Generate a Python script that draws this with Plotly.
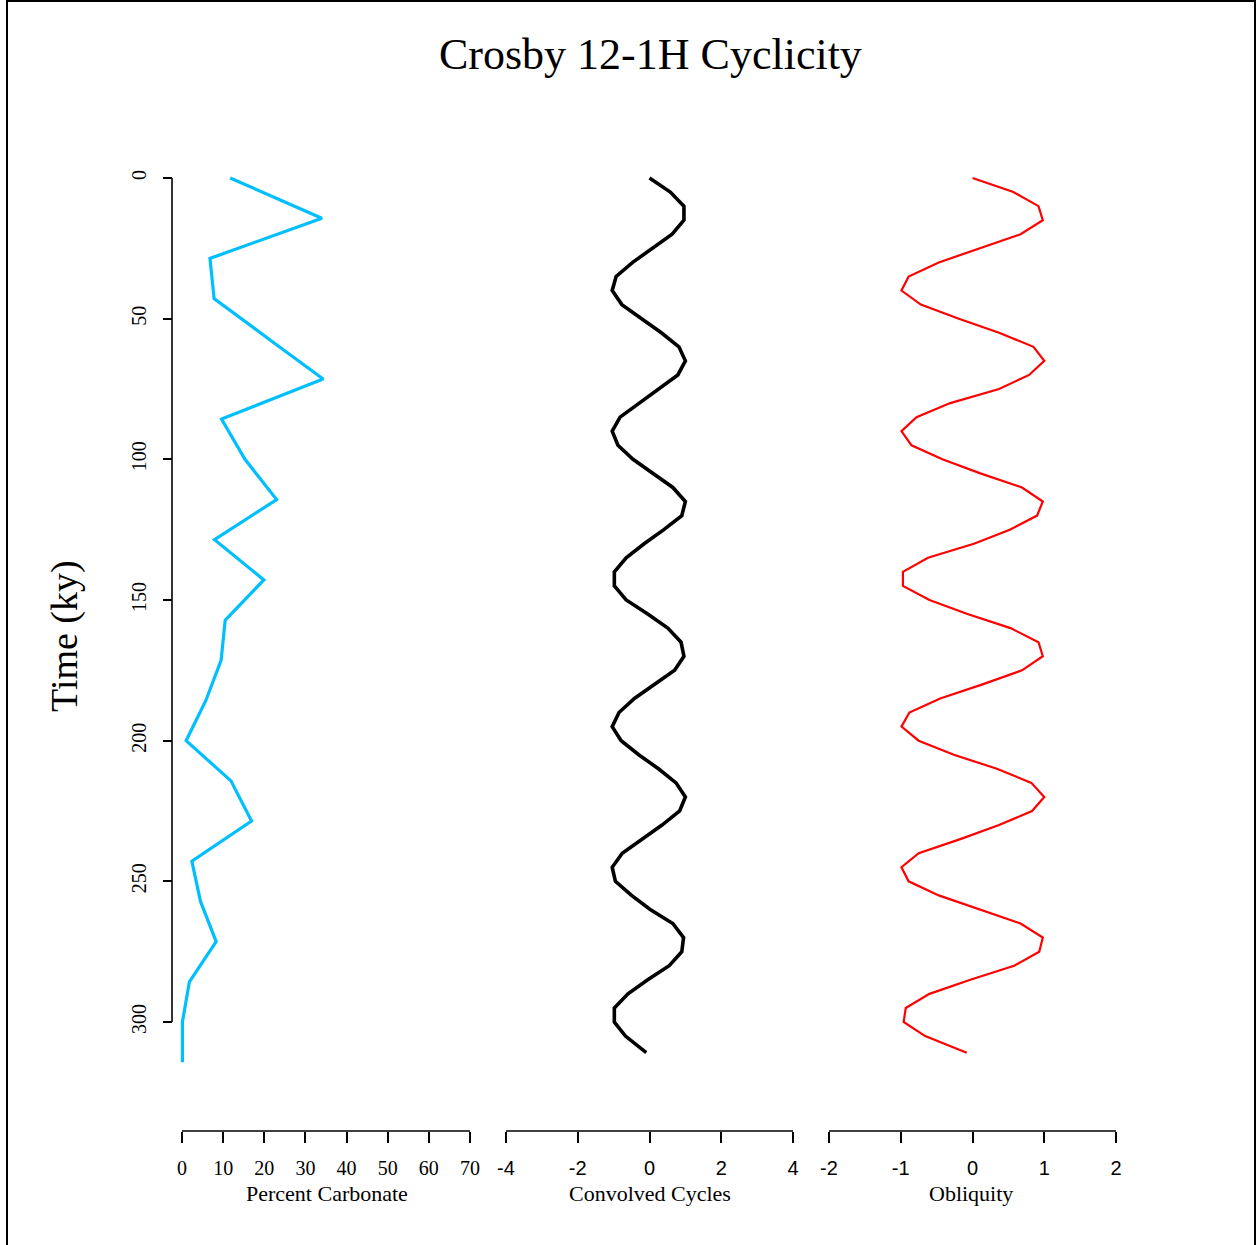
import plotly.graph_objects as go

W, H = 1257, 1245

# ---------------- data ----------------
carb_time = [0, 14.29, 28.57, 42.86, 57.14, 71.43, 85.71, 100, 114.29, 128.57,
             142.86, 157.14, 171.43, 185.71, 200, 214.29, 228.57, 242.86,
             257.14, 271.43, 285.71, 300, 314.29]
carb_pct = [11.7, 34.0, 6.8, 7.8, 21.0, 34.3, 9.6, 15.3, 23.0, 7.9,
            19.9, 10.5, 9.5, 5.8, 1.0, 11.9, 16.9, 2.4, 4.5, 8.3,
            1.8, 0.1, 0.1]

cyc_time = [0, 5, 10, 15, 20, 25, 30, 35, 40, 45, 50, 55, 60, 65, 70, 75, 80,
            85, 90, 95, 100, 105, 110, 115, 120, 125, 130, 135, 140, 145, 150,
            155, 160, 165, 170, 175, 180, 185, 190, 195, 200, 205, 210, 215,
            220, 225, 230, 235, 240, 245, 250, 255, 260, 265, 270, 275, 280,
            285, 290, 295, 300, 305, 310.9]

convolved = [0.00, 0.58, 0.96, 0.96, 0.63, 0.08, -0.47, -0.93, -1.04, -0.77,
             -0.22, 0.33, 0.82, 1.00, 0.79, 0.25, -0.28, -0.82, -1.04, -0.88,
             -0.46, 0.10, 0.65, 1.00, 0.90, 0.40, -0.15, -0.65, -0.98, -0.98,
             -0.65, -0.05, 0.51, 0.88, 0.96, 0.70, 0.15, -0.42, -0.85, -1.04,
             -0.79, -0.30, 0.25, 0.74, 1.00, 0.84, 0.35, -0.22, -0.76, -1.04,
             -0.95, -0.50, 0.02, 0.65, 0.95, 0.90, 0.55, -0.05, -0.60, -0.98,
             -0.98, -0.67, -0.09]

obliquity = [0.00, 0.57, 0.92, 0.98, 0.67, 0.11, -0.47, -0.89, -0.99, -0.72,
             -0.19, 0.37, 0.85, 1.00, 0.79, 0.37, -0.31, -0.78, -0.99, -0.85,
             -0.42, 0.11, 0.69, 0.98, 0.90, 0.52, 0.02, -0.62, -0.97, -0.97,
             -0.60, -0.07, 0.53, 0.92, 0.98, 0.69, 0.14, -0.45, -0.88, -0.99,
             -0.75, -0.26, 0.34, 0.82, 1.00, 0.83, 0.37, -0.17, -0.75, -0.99,
             -0.89, -0.47, 0.11, 0.67, 0.98, 0.93, 0.58, -0.03, -0.60, -0.93,
             -0.96, -0.66, -0.08]

y_ticks = [0, 50, 100, 150, 200, 250, 300]
carb_ticks = [0, 10, 20, 30, 40, 50, 60, 70]
cyc_ticks = [-4, -2, 0, 2, 4]
obl_ticks = [-2, -1, 0, 1, 2]

# ---------------- layout geometry (pixels) ----------------
def px(x):
    return x / W

def py(y):
    return 1 - y / H

SERIF = "Liberation Serif, Times New Roman, serif"
SANS = "Liberation Sans, Arial, sans-serif"

# y axis: t=0 at 178 px, t=300 at 1022 px
y_top_px, y_bot_px = 140, 1100
t_scale = (1022 - 178) / 300.0
y_range = [(y_bot_px - 178) / t_scale, (y_top_px - 178) / t_scale]

PAD = 10  # px padding so lines near edges are not clipped
panels = [
    ("x", 182, 470, 0, 70, carb_ticks, SERIF),
    ("x2", 506, 793, -4, 4, cyc_ticks, SANS),
    ("x3", 829, 1116, -2, 2, obl_ticks, SANS),
]
axis_y_px = 1131

fig = go.Figure()
fig.add_trace(go.Scatter(x=carb_pct, y=carb_time, mode="lines",
                         line=dict(color="#00BFFF", width=3.2),
                         xaxis="x", yaxis="y", showlegend=False))
fig.add_trace(go.Scatter(x=convolved, y=cyc_time, mode="lines",
                         line=dict(color="black", width=3.6),
                         xaxis="x2", yaxis="y", showlegend=False))
fig.add_trace(go.Scatter(x=obliquity, y=cyc_time, mode="lines",
                         line=dict(color="red", width=2.2),
                         xaxis="x3", yaxis="y", showlegend=False))

layout = dict(
    width=W, height=H,
    margin=dict(l=0, r=0, t=0, b=0),
    paper_bgcolor="white", plot_bgcolor="white",
    showlegend=False,
)

shapes = []
for name, l, r, v0, v1, ticks, fnt in panels:
    scale = (r - l) / (v1 - v0)
    rng = [v0 - PAD / scale, v1 + PAD / scale]
    key = "xaxis" if name == "x" else "xaxis" + name[1:]
    layout[key] = dict(
        domain=[px(l - PAD), px(r + PAD)],
        range=rng,
        anchor="free",
        position=py(axis_y_px),
        showline=False, showgrid=False, zeroline=False,
        tickmode="array", tickvals=ticks,
        ticktext=[str(t) for t in ticks],
        ticks="outside", ticklen=11, tickwidth=1.6, tickcolor="black",
        tickfont=dict(family=fnt, size=20, color="black"),
        ticklabelstandoff=8,
    )
    shapes.append(dict(type="line", xref="paper", yref="paper",
                       x0=px(l), x1=px(r), y0=py(axis_y_px), y1=py(axis_y_px),
                       line=dict(color="black", width=1.6)))

layout["yaxis"] = dict(
    domain=[py(y_bot_px), py(y_top_px)],
    range=y_range,
    anchor="free", position=px(172),
    showline=False, showgrid=False, zeroline=False,
    tickmode="array", tickvals=y_ticks, ticktext=[str(t) for t in y_ticks],
    ticks="outside", ticklen=9, tickwidth=1.6, tickcolor="black",
    tickangle=-90,
    tickfont=dict(family=SERIF, size=20, color="black"),
    ticklabelstandoff=9,
)
shapes.append(dict(type="line", xref="paper", yref="y",
                   x0=px(172), x1=px(172), y0=y_ticks[0], y1=y_ticks[-1],
                   line=dict(color="black", width=1.6)))
shapes.append(dict(type="rect", xref="paper", yref="paper",
                   x0=px(7), x1=px(1255), y0=py(1260), y1=py(1),
                   line=dict(color="black", width=2)))
layout["shapes"] = shapes

annotations = [
    dict(text="Crosby 12-1H Cyclicity", xref="paper", yref="paper",
         x=px(650), y=py(55), showarrow=False, xanchor="center", yanchor="middle",
         font=dict(family=SERIF, size=44, color="black")),
    dict(text="Time (ky)", xref="paper", yref="paper",
         x=px(64), y=py(636), showarrow=False, textangle=-90,
         xanchor="center", yanchor="middle",
         font=dict(family=SERIF, size=38, color="black")),
    dict(text="Percent Carbonate", xref="paper", yref="paper",
         x=px(327), y=py(1193), showarrow=False, xanchor="center", yanchor="middle",
         font=dict(family=SERIF, size=22, color="black")),
    dict(text="Convolved Cycles", xref="paper", yref="paper",
         x=px(650), y=py(1193), showarrow=False, xanchor="center", yanchor="middle",
         font=dict(family=SERIF, size=22, color="black")),
    dict(text="Obliquity", xref="paper", yref="paper",
         x=px(971), y=py(1193), showarrow=False, xanchor="center", yanchor="middle",
         font=dict(family=SERIF, size=22, color="black")),
]
layout["annotations"] = annotations

fig.update_layout(**layout)
fig.write_html("out.html")
